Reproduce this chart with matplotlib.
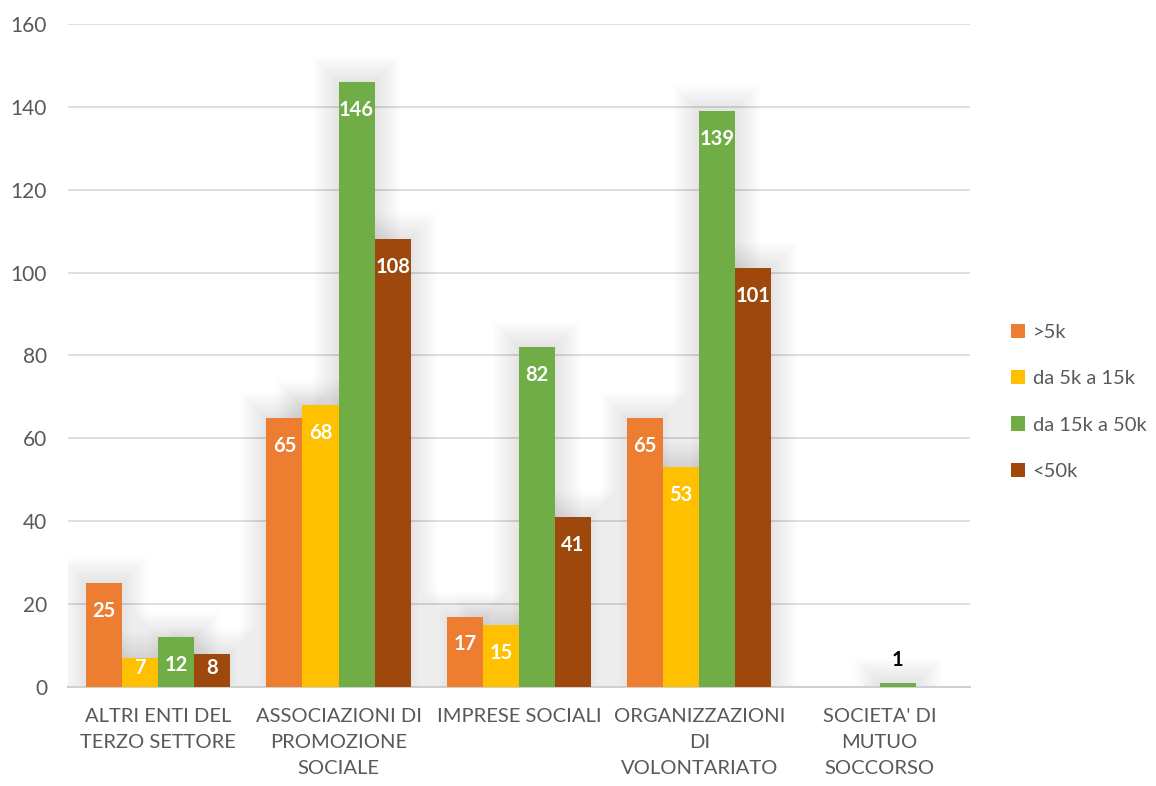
import matplotlib.pyplot as plt
import numpy as np
from matplotlib.patches import Rectangle

plt.rcParams['font.family'] = ['Lato', 'DejaVu Sans']

categories = ["ALTRI ENTI DEL\nTERZO SETTORE",
              "ASSOCIAZIONI DI\nPROMOZIONE\nSOCIALE",
              "IMPRESE SOCIALI",
              "ORGANIZZAZIONI\nDI\nVOLONTARIATO",
              "SOCIETA' DI\nMUTUO\nSOCCORSO"]
series_names = [">5k", "da 5k a 15k", "da 15k a 50k", "<50k"]
over_5k = [25, 65, 17, 65, 0]
from_5k_to_15k = [7, 68, 15, 53, 0]
from_15k_to_50k = [12, 146, 82, 139, 1]
under_50k = [8, 108, 41, 101, 0]
colors = ["#ED7D31", "#FFC000", "#70AD47", "#9E480E"]

series = [over_5k, from_5k_to_15k, from_15k_to_50k, under_50k]
grey_txt = "#595959"

fig = plt.figure(figsize=(11.56, 7.86), dpi=100)
ax = fig.add_axes([0.0588, 0.126, 0.7802, 0.8435])
ax.set_xlim(-0.5, 4.5)
ax.set_ylim(0, 160)

x = np.arange(len(categories))
width = 0.2

# data units per pixel, used for the soft shadow and label padding
px_x = 5 / (0.7802 * 1156)
px_y = 160 / (0.8435 * 786)

for i, (vals, col, name) in enumerate(zip(series, colors, series_names)):
    xs = x + (i - 1.5) * width
    # soft shadow behind the bars
    for xi, v in zip(xs, vals):
        if v <= 0:
            continue
        for pad in range(2, 28, 2):
            ax.add_patch(Rectangle((xi - width / 2 - pad * px_x, 0),
                                   width + 2 * pad * px_x, v + pad * px_y,
                                   facecolor="black", alpha=0.0065,
                                   edgecolor="none", zorder=1))
    ax.bar(xs, vals, width=width, color=col, label=name, zorder=3)
    for xi, v in zip(xs, vals):
        if v == 0:
            continue
        if v < 5:
            ax.annotate(str(v), (xi, v), xytext=(0, 9), textcoords="offset points",
                        ha="center", va="bottom", fontsize=14.5, fontweight="bold",
                        color="black", zorder=4)
        else:
            yl = max(v - 6.75, 4.6)
            ax.text(xi, yl, str(v), ha="center", va="center", fontsize=14.5,
                    fontweight="bold", color="white", zorder=4)

ax.set_yticks(range(0, 161, 20))
ax.yaxis.grid(True, color="#d9d9d9", linewidth=1.2, zorder=0)
ax.set_axisbelow(True)
for s in ["top", "right", "left"]:
    ax.spines[s].set_visible(False)
ax.spines["bottom"].set_color("#d0d0d0")
ax.spines["bottom"].set_linewidth(1.5)
ax.spines["bottom"].set_zorder(2)

ax.set_xticks(x)
ax.set_xticklabels(categories, fontsize=14.5, color=grey_txt, linespacing=1.65)
ax.tick_params(axis="x", length=0, pad=15)
ax.tick_params(axis="y", length=0, pad=15, labelsize=15, labelcolor=grey_txt)

ax.legend(loc="center left", bbox_to_anchor=(1.025, 0.43), frameon=False,
          fontsize=14.5, labelcolor=grey_txt, handlelength=0.7, handleheight=0.7,
          handletextpad=0.4, labelspacing=1.45)

fig.savefig("out.png", dpi=100)
